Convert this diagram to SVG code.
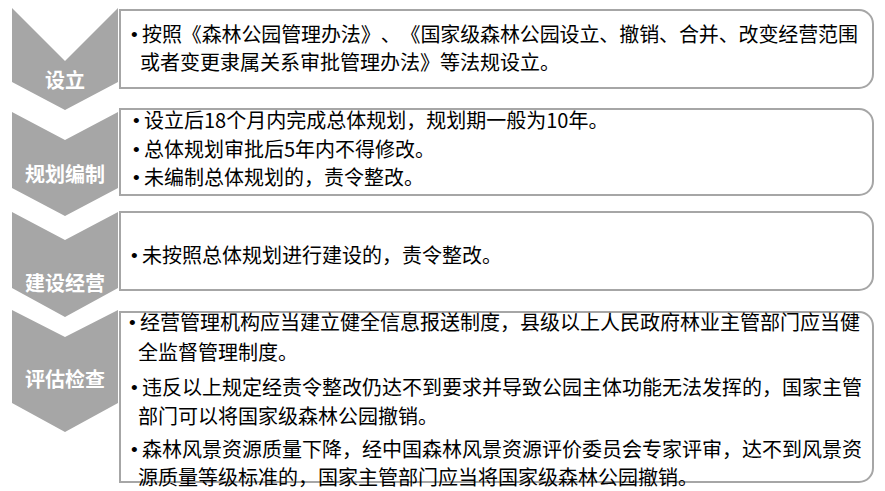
<svg xmlns="http://www.w3.org/2000/svg" width="885" height="491" viewBox="0 0 885 491">
<style>
.chev{fill:#a6a6a6;stroke:none}
.box{fill:#ffffff;stroke:#a6a6a6;stroke-width:2}
.lbl{font-family:"Noto Sans CJK SC","Noto Sans",sans-serif;font-size:20px;font-weight:bold;fill:#ffffff;text-anchor:middle}
.txt{font-family:"Noto Sans CJK SC","Noto Sans",sans-serif;font-size:20px;fill:#000000;text-spacing-trim:space-all}
.bul{font-family:"Liberation Sans","Noto Sans CJK SC",sans-serif;font-size:19px;fill:#000000}
</style>
<rect width="885" height="491" fill="#ffffff"/>
<g id="step1">
<polygon class="chev" points="12,8 65,61 118,8 118,82 65,110 12,82"/>
<text class="lbl" x="65" y="88">设立</text>
<path class="box" d="M120,10 H859 A14,14 0 0 1 873,24 V74 A14,14 0 0 1 859,88 H120 Z"/>
<text class="bul" x="131" y="41">•</text>
<text class="txt" x="142" y="42" textLength="716" lengthAdjust="spacing">按照《森林公园管理办法》、《国家级森林公园设立、撤销、合并、改变经营范围</text>
<text class="txt" x="140" y="70">或者变更隶属关系审批管理办法》等法规设立。</text>
</g>
<g id="step2">
<polygon class="chev" points="12,112 65,140 118,112 118,188 65,216 12,188"/>
<text class="lbl" x="65" y="182">规划编制</text>
<path class="box" d="M120,109 H859 A14,14 0 0 1 873,123 V181 A14,14 0 0 1 859,195 H120 Z"/>
<text class="bul" x="133" y="127">•</text>
<text class="txt" x="144" y="128">设立后18个月内完成总体规划，规划期一般为10年。</text>
<text class="bul" x="133" y="156">•</text>
<text class="txt" x="144" y="157">总体规划审批后5年内不得修改。</text>
<text class="bul" x="133" y="184">•</text>
<text class="txt" x="144" y="185">未编制总体规划的，责令整改。</text>
</g>
<g id="step3">
<polygon class="chev" points="12,212 65,240 118,212 118,288 65,317 12,288"/>
<text class="lbl" x="65" y="291">建设经营</text>
<path class="box" d="M120,212 H859 A14,14 0 0 1 873,226 V276 A14,14 0 0 1 859,290 H120 Z"/>
<text class="bul" x="131" y="262">•</text>
<text class="txt" x="142" y="263">未按照总体规划进行建设的，责令整改。</text>
</g>
<g id="step4">
<polygon class="chev" points="12,310 65,337 118,310 118,403 65,432 12,403"/>
<text class="lbl" x="65" y="387">评估检查</text>
<path class="box" d="M120,312 H859 A14,14 0 0 1 873,326 V468 A14,14 0 0 1 859,482 H120 Z"/>
<text class="bul" x="129" y="329">•</text>
<text class="txt" x="140" y="330">经营管理机构应当建立健全信息报送制度，县级以上人民政府林业主管部门应当健</text>
<text class="txt" x="138" y="360">全监督管理制度。</text>
<text class="bul" x="131" y="394">•</text>
<text class="txt" x="142" y="395">违反以上规定经责令整改仍达不到要求并导致公园主体功能无法发挥的，国家主管</text>
<text class="txt" x="138" y="424">部门可以将国家级森林公园撤销。</text>
<text class="bul" x="131" y="456">•</text>
<text class="txt" x="142" y="457">森林风景资源质量下降，经中国森林风景资源评价委员会专家评审，达不到风景资</text>
<text class="txt" x="138" y="485">源质量等级标准的，国家主管部门应当将国家级森林公园撤销。</text>
</g>
<g id="connectors"></g>
</svg>
